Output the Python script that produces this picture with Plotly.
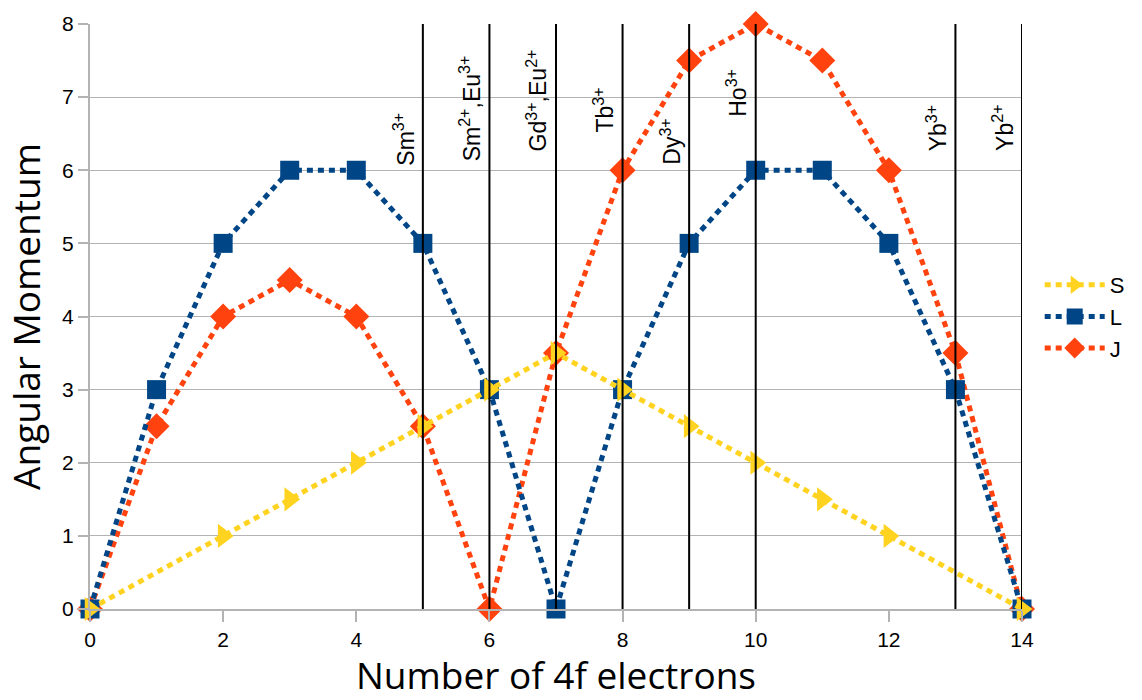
import plotly.graph_objects as go

# Angular momentum of trivalent lanthanide 4f^n configurations
s_x = [0, 2, 3, 4, 5, 6, 7, 8, 9, 10, 11, 12, 14]
s_y = [0, 1, 1.5, 2, 2.5, 3, 3.5, 3, 2.5, 2, 1.5, 1, 0]

n_electrons = list(range(15))
l_vals = [0, 3, 5, 6, 6, 5, 3, 0, 3, 5, 6, 6, 5, 3, 0]
j_vals = [0, 2.5, 4, 4.5, 4, 2.5, 0, 3.5, 6, 7.5, 8, 7.5, 6, 3.5, 0]

# Ions marked on the plot
ion_x = [5, 6, 7, 8, 9, 10, 13, 14]
ion_labels = [
    "Sm<sup>3+</sup>",
    "Sm<sup>2+</sup>,Eu<sup>3+</sup>",
    "Gd<sup>3+</sup>,Eu<sup>2+</sup>",
    "Tb<sup>3+</sup>",
    "Dy<sup>3+</sup>",
    "Ho<sup>3+</sup>",
    "Yb<sup>3+</sup>",
    "Yb<sup>2+</sup>",
]
label_base = [6.04, 6.1, 6.23, 6.49, 6.05, 6.7, 6.23, 6.23]

C_S = "#ffd320"
C_L = "#004586"
C_J = "#ff420e"
DASH = "6px,5px"

fig = go.Figure()
fig.add_trace(go.Scatter(
    x=n_electrons, y=j_vals, name="J", mode="lines+markers", cliponaxis=False,
    line=dict(color=C_J, width=5, dash=DASH),
    marker=dict(symbol="diamond", size=20, color=C_J),
))
fig.add_trace(go.Scatter(
    x=n_electrons, y=l_vals, name="L", mode="lines+markers", cliponaxis=False,
    line=dict(color=C_L, width=5, dash=DASH),
    marker=dict(symbol="square", size=19, color=C_L),
))
fig.add_trace(go.Scatter(
    x=s_x, y=s_y, name="S", mode="lines+markers", cliponaxis=False,
    line=dict(color=C_S, width=5, dash=DASH),
    marker=dict(symbol="triangle-right", size=21, color=C_S),
))

shapes = []
annotations = []
for xv, lab, yb in zip(ion_x, ion_labels, label_base):
    shapes.append(dict(type="line", xref="x", yref="y", x0=xv, x1=xv, y0=0, y1=8,
                       line=dict(color="black", width=2), layer="above"))
    annotations.append(dict(x=xv, y=yb, xref="x", yref="y", text=lab, showarrow=False,
                            textangle=-90, xanchor="right", yanchor="bottom", xshift=-2,
                            font=dict(family="Liberation Sans", size=23, color="black")))

fig.update_layout(
    width=1142, height=700,
    margin=dict(l=90, r=120, t=22, b=90),
    paper_bgcolor="white", plot_bgcolor="white",
    shapes=shapes, annotations=annotations,
    showlegend=True,
    legend=dict(x=1.019, y=0.5, xanchor="left", yanchor="middle",
                traceorder="reversed", font=dict(family="Liberation Sans", size=22, color="black"),
                itemwidth=60, tracegroupgap=0),
    font=dict(family="Liberation Sans", size=21, color="black"),
)
fig.update_xaxes(
    range=[0, 14], tickvals=list(range(0, 15, 2)), showgrid=False,
    showline=True, linecolor="#b3b3b3", linewidth=2,
    ticks="outside", ticklen=11, tickcolor="#b3b3b3", tickwidth=2,
    tickfont=dict(family="Liberation Sans", size=21),
    title=dict(text="Number of 4f electrons", font=dict(family="Open Sans", size=37), standoff=11),
    zeroline=False,
)
fig.update_yaxes(
    range=[0, 8], tickvals=list(range(0, 9)), showgrid=True, gridcolor="#b3b3b3", gridwidth=1,
    showline=True, linecolor="#b3b3b3", linewidth=2,
    ticks="outside", ticklen=10, tickcolor="#b3b3b3", tickwidth=2,
    tickfont=dict(family="Liberation Sans", size=21),
    title=dict(text="Angular Momentum", font=dict(family="Open Sans", size=37), standoff=12),
    zeroline=False,
)

fig.write_html("out.html")
